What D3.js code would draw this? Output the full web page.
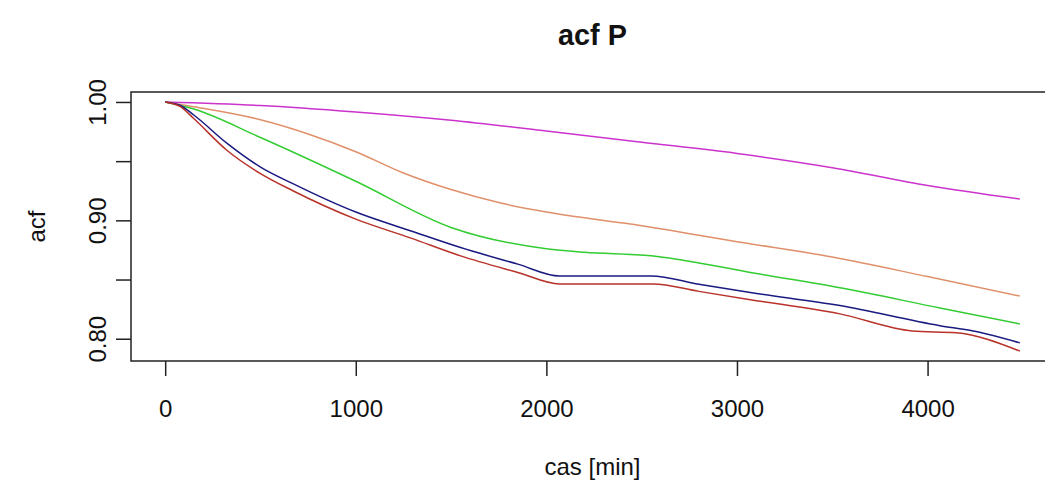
<!DOCTYPE html>
<html>
<head>
<meta charset="utf-8">
<script src="https://cdn.jsdelivr.net/npm/d3@7"></script>
<style>
  html, body { margin: 0; padding: 0; background: #fff; }
  svg { display: block; }
  text { font-family: "Liberation Sans", Arial, sans-serif; fill: #111; }
</style>
</head>
<body>
<svg id="chart" width="1045" height="488"></svg>
<script>
// lag in minutes
const lagsPurple = [0, 500, 1000, 1500, 2000, 2500, 3000, 3500, 4000, 4484];
const acfPurple  = [1.000, 0.997, 0.9915, 0.9845, 0.9755, 0.966, 0.9565, 0.9445, 0.9295, 0.918];

const lagsOrange = [0, 150, 500, 750, 1000, 1250, 1500, 1750, 2000, 2500, 3000, 3500, 4000, 4484];
const acfOrange  = [1.000, 0.996, 0.985, 0.973, 0.958, 0.940, 0.926, 0.915, 0.907, 0.8955, 0.882, 0.869, 0.8525, 0.836];

const lagsGreen = [0, 150, 500, 1000, 1500, 2000, 2200, 2550, 2800, 3070, 3540, 4065, 4484];
const acfGreen  = [1.000, 0.994, 0.970, 0.933, 0.894, 0.876, 0.873, 0.870, 0.864, 0.856, 0.843, 0.826, 0.8125];

const lagsNavy = [0, 80, 150, 325, 500, 670, 1000, 1290, 1550, 1850, 2070, 2550, 2800, 3070, 3540, 4065, 4240, 4484];
const acfNavy  = [1.000, 0.997, 0.989, 0.965, 0.945, 0.931, 0.907, 0.891, 0.877, 0.863, 0.853, 0.853, 0.846, 0.839, 0.828, 0.811, 0.8065, 0.7965];

const lagsRed = [0, 80, 150, 325, 500, 670, 1000, 1290, 1550, 1850, 2070, 2560, 2800, 3070, 3540, 3920, 4150, 4484];
const acfRed  = [1.000, 0.996, 0.986, 0.959, 0.9395, 0.925, 0.901, 0.885, 0.870, 0.856, 0.8463, 0.8463, 0.840, 0.833, 0.821, 0.8065, 0.805, 0.7896];

const seriesColors = ["#CC33CC", "#E0906A", "#33CC33", "#1A1A80", "#B8322A"];

const xTicks = [0, 1000, 2000, 3000, 4000];
const yTicks = [0.80, 0.85, 0.90, 0.95, 1.00];
const yTickLabels = ["0.80", "", "0.90", "", "1.00"];

const titleText = "acf P";
const xLabel = "cas [min]";
const yLabel = "acf";

const series = [
  { lags: lagsPurple, acf: acfPurple },
  { lags: lagsOrange, acf: acfOrange },
  { lags: lagsGreen,  acf: acfGreen },
  { lags: lagsNavy,   acf: acfNavy },
  { lags: lagsRed,    acf: acfRed }
].map((s, i) => ({ color: seriesColors[i], points: s.lags.map((l, j) => [l, s.acf[j]]) }));

// plotting region (the right edge lies beyond the canvas)
const box = { left: 131, right: 1054, top: 92, bottom: 361 };

const allX = series.flatMap(s => s.points.map(p => p[0]));
const allY = series.flatMap(s => s.points.map(p => p[1]));
const [x0, x1] = d3.extent(allX);
const [y0, y1] = d3.extent(allY);
const xPad = 0.04 * (x1 - x0), yPad = 0.04 * (y1 - y0);

const x = d3.scaleLinear().domain([x0 - xPad, x1 + xPad]).range([box.left, box.right]);
const y = d3.scaleLinear().domain([y0 - yPad, y1 + yPad]).range([box.bottom, box.top]);

const svg = d3.select("#chart");

// series lines
const line = d3.line().x(d => x(d[0])).y(d => y(d[1])).curve(d3.curveMonotoneX);
svg.append("g").selectAll("path").data(series).join("path")
  .attr("d", d => line(d.points))
  .attr("fill", "none")
  .attr("stroke", d => d.color)
  .attr("stroke-width", 1.5);

// frame
svg.append("rect")
  .attr("x", box.left).attr("y", box.top)
  .attr("width", box.right - box.left).attr("height", box.bottom - box.top)
  .attr("fill", "none").attr("stroke", "#222").attr("stroke-width", 1.5);

const fontAxis = 24;

// x axis
const xAxis = d3.axisBottom(x).tickValues(xTicks).tickSize(15).tickPadding(24).tickFormat(d3.format("d"));
const gx = svg.append("g").attr("transform", `translate(0,${box.bottom})`).call(xAxis);
gx.select(".domain").remove();
gx.selectAll(".tick line").attr("stroke", "#222").attr("stroke-width", 1.5);
gx.selectAll(".tick text").attr("font-size", fontAxis).attr("fill", "#111")
  .attr("font-family", "'Liberation Sans', Arial, sans-serif");

// y axis, labels rotated along the axis
const yAxis = d3.axisLeft(y).tickValues(yTicks).tickSize(15).tickFormat((d, i) => yTickLabels[i]);
const gy = svg.append("g").attr("transform", `translate(${box.left},0)`).call(yAxis);
gy.select(".domain").remove();
gy.selectAll(".tick line").attr("stroke", "#222").attr("stroke-width", 1.5);
gy.selectAll(".tick text")
  .attr("font-size", fontAxis).attr("fill", "#111")
  .attr("font-family", "'Liberation Sans', Arial, sans-serif")
  .attr("x", null).attr("dy", null)
  .attr("text-anchor", "middle")
  .attr("transform", "translate(-25,0) rotate(-90)");

// title and axis titles
svg.append("text")
  .attr("x", (box.left + box.right) / 2).attr("y", 45)
  .attr("text-anchor", "middle").attr("font-size", 28.8).attr("font-weight", "bold")
  .text(titleText);

svg.append("text")
  .attr("x", (box.left + box.right) / 2).attr("y", 475)
  .attr("text-anchor", "middle").attr("font-size", fontAxis)
  .text(xLabel);

svg.append("text")
  .attr("transform", `translate(45,${(box.top + box.bottom) / 2}) rotate(-90)`)
  .attr("text-anchor", "middle").attr("font-size", fontAxis)
  .text(yLabel);
</script>
</body>
</html>
